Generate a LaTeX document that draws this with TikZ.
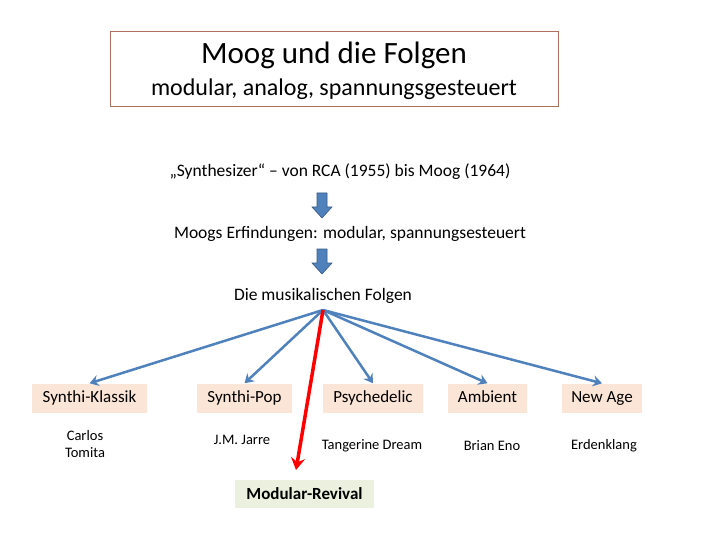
\documentclass[tikz,border=0pt]{standalone}
\usepackage{fontspec}
\setmainfont{Carlito}
\usetikzlibrary{arrows.meta}
\definecolor{arrblue}{HTML}{4F81BD}
\definecolor{peach}{HTML}{FBE5D6}
\definecolor{pale}{HTML}{EBF1DE}
\definecolor{tbord}{HTML}{B07060}
\begin{document}
\begin{tikzpicture}[x=1pt,y=-1pt,
  cat/.style={fill=peach,minimum height=29pt,inner xsep=4pt,text height=12pt,text depth=4pt,font=\fontsize{17}{20}\selectfont},
  small/.style={font=\fontsize{14.5}{17}\selectfont,align=center},
  lbl/.style={font=\fontsize{17.5}{21}\selectfont},
  conn/.style={draw=arrblue,line width=2.5pt,-{Stealth[length=9pt,width=11pt,inset=3pt]}},
  blk/.style={draw=arrblue!70!black,fill=arrblue,line width=0.6pt}]
\useasboundingbox (0,0) rectangle (720,540);
\node[draw=tbord,line width=0.6pt,minimum width=448pt,minimum height=75pt,inner sep=0pt] (title) at (334,68.5) {};
\node[font=\fontsize{31}{40}\selectfont] (tt) at (334,55) {Moog und die Folgen};
\node[font=\fontsize{24}{28}\selectfont] (ts) at (334,89) {modular, analog, spannungsgesteuert};
\node[lbl] (t1) at (340,172) {„Synthesizer“ – von RCA (1955) bis Moog (1964)};
\node[lbl] (t2) at (350,234) {Moogs Erfindungen: modular, spannungsesteuert};
\node[lbl] (t3) at (323,296) {Die musikalischen Folgen};
\path[blk] (317,193) -- (327,193) -- (327,207) -- (332,207) -- (322,218) -- (312,207) -- (317,207) -- cycle;
\path[blk] (317,249) -- (327,249) -- (327,263) -- (332,263) -- (322,274) -- (312,263) -- (317,263) -- cycle;
\coordinate (hub) at (323,310);
\node[cat,minimum width=115pt] (k) at (89.5,398) {Synthi-Klassik};
\node[cat,minimum width=95pt] (p) at (244.5,398) {Synthi-Pop};
\node[cat,minimum width=100pt] (ps) at (373,398) {Psychedelic};
\node[cat,minimum width=79pt] (am) at (487.5,398) {Ambient};
\node[cat,minimum width=80pt] (na) at (602,398) {New Age};
\node[small] (k2) at (85,444) {Carlos\\Tomita};
\node[small] (p2) at (242,440) {J.M. Jarre};
\node[small] (ps2) at (372,446) {Tangerine Dream};
\node[small] (am2) at (492,446) {Brian Eno};
\node[small] (na2) at (604,446) {Erdenklang};
\node[fill=pale,minimum width=139pt,minimum height=28pt,font=\fontsize{17}{20}\selectfont\bfseries] (mr) at (304.5,494) {Modular-Revival};
\coordinate (rt) at (296,470);
\draw[conn] (hub) -- (k.north);
\draw[conn] (hub) -- (p.north);
\draw[conn] (hub) -- (ps.north);
\draw[conn] (hub) -- (am.north);
\draw[conn] (hub) -- (na.north);
\draw[draw=red,line width=3.5pt,-{Stealth[length=12pt,width=14pt,inset=4pt]}] (hub) -- (rt);
\end{tikzpicture}
\end{document}
